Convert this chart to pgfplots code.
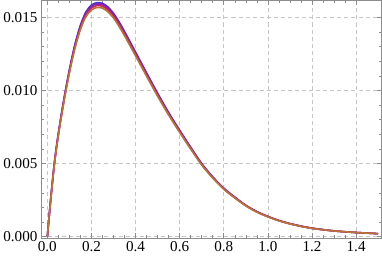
\documentclass[border=0pt]{standalone}
\usepackage{pgfplots}
\pgfplotsset{compat=1.18}
\usepackage{pgfplotstable}
\usepackage{fontspec}
\setmainfont{Liberation Serif}
\definecolor{cblue}{RGB}{70,50,210}
\definecolor{cpurple}{RGB}{135,30,185}
\definecolor{cred}{RGB}{200,40,90}
\definecolor{cbrown}{RGB}{185,115,55}
\pgfplotstableread{
x blue purple red brown
0 0 0 0 0
0.015 0.00253 0.00251 0.00249 0.00248
0.032 0.00506 0.00502 0.00499 0.00495
0.05 0.00708 0.00703 0.00699 0.00693
0.075 0.00940 0.00935 0.00928 0.00921
0.10 0.01142 0.01136 0.01128 0.01119
0.125 0.01314 0.01306 0.01297 0.01287
0.15 0.01446 0.01437 0.01427 0.01416
0.175 0.01537 0.01528 0.01517 0.01505
0.20 0.01583 0.01574 0.01563 0.01550
0.225 0.01600 0.01591 0.01580 0.01567
0.25 0.01595 0.01586 0.01575 0.01562
0.275 0.01570 0.01561 0.01550 0.01537
0.30 0.01527 0.01518 0.01507 0.01495
0.325 0.01469 0.01460 0.01450 0.01438
0.35 0.01403 0.01395 0.01385 0.01374
0.40 0.01262 0.01254 0.01246 0.01236
0.45 0.01120 0.01114 0.01106 0.01097
0.50 0.00981 0.00975 0.00968 0.00960
0.55 0.00849 0.00844 0.00838 0.00832
0.60 0.00728 0.00724 0.00719 0.00713
0.65 0.00612 0.00608 0.00604 0.00599
0.70 0.00500 0.00497 0.00494 0.00490
0.75 0.00409 0.00407 0.00404 0.00401
0.80 0.00332 0.00330 0.00327 0.00325
0.85 0.00271 0.00269 0.00267 0.00265
0.90 0.00215 0.00214 0.00213 0.00211
0.95 0.00172 0.00171 0.00170 0.00168
1.00 0.00139 0.00138 0.00137 0.00136
1.05 0.00111 0.00111 0.00110 0.00109
1.10 0.00090 0.00089 0.00089 0.00088
1.15 0.00073 0.00072 0.00072 0.00071
1.20 0.00059 0.00058 0.00058 0.00057
1.25 0.00049 0.00048 0.00048 0.00048
1.30 0.00040 0.00040 0.00040 0.00040
1.35 0.00034 0.00034 0.00034 0.00034
1.40 0.00029 0.00029 0.00029 0.00029
1.45 0.00025 0.00025 0.00025 0.00025
1.50 0.00021 0.00021 0.00021 0.00021
}\data
\begin{document}
\begin{tikzpicture}
\begin{axis}[
  scale only axis, width=338pt, height=236pt,
  xmin=-0.029, xmax=1.516, ymin=-0.0001, ymax=0.01616,
  xtick={0,0.2,0.4,0.6,0.8,1.0,1.2,1.4},
  xticklabels={0.0,0.2,0.4,0.6,0.8,1.0,1.2,1.4},
  ytick={0,0.005,0.01,0.015},
  yticklabels={0.000,0.005,0.010,0.015},
  minor x tick num=3, minor y tick num=4,
  scaled y ticks=false,
  tick align=inside,
  xtick pos=both, ytick pos=both,
  xticklabel pos=left, yticklabel pos=left,
  major tick length=5pt, minor tick length=3pt,
  ticklabel style={font=\fontsize{15}{18}\selectfont, text=black},
  axis line style={gray!90, line width=0.6pt},
  tick style={gray!90, line width=0.6pt},
  grid=major,
  major grid style={dash pattern=on 4pt off 3pt, gray!45, line width=0.6pt},
  every axis plot/.append style={line width=1.6pt, smooth, no markers},
]
\addplot[cblue] table[x=x, y=blue] {\data};
\addplot[cpurple] table[x=x, y=purple] {\data};
\addplot[cred] table[x=x, y=red] {\data};
\addplot[cbrown] table[x=x, y=brown] {\data};
\end{axis}
\end{tikzpicture}
\end{document}
